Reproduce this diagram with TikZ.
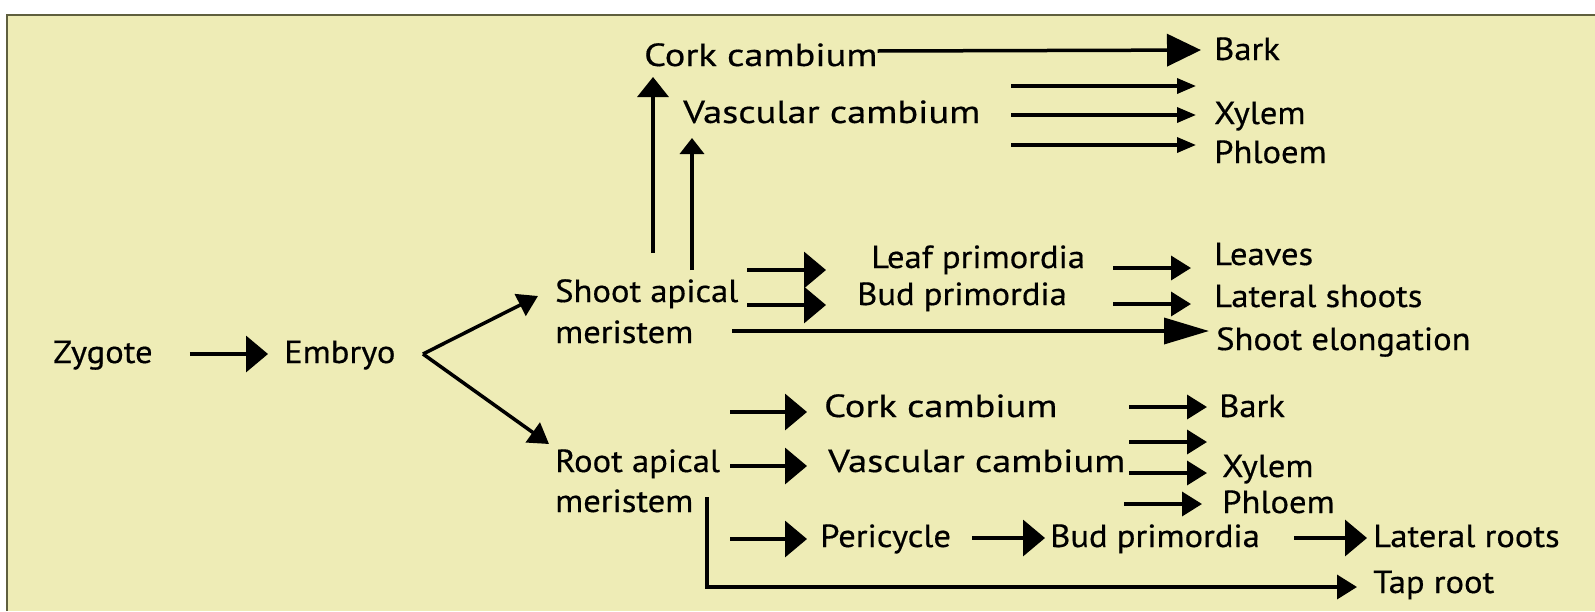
\documentclass[tikz,border=0pt]{standalone}
\usepackage{fontspec}
\setmainfont{PT Sans}[FakeStretch=1.08,FakeBold=0.5]
\newfontfamily\cambfont{PT Sans}[FakeStretch=1.2,FakeBold=0.5]
\usepackage{tikz}
\usetikzlibrary{arrows.meta}

\definecolor{paper}{RGB}{238,236,182}
\definecolor{edgeline}{RGB}{95,95,62}

\tikzset{
    lbl/.style={anchor=base west, inner sep=0pt, text height=24pt, text depth=6pt,
        font=\fontsize{32}{38}\selectfont},
    camb/.style={lbl, font=\fontsize{32}{38}\cambfont},
    big/.style={line width=3.5pt, -{Triangle[length=22pt,width=36pt]}},
    mid/.style={line width=3.5pt, -{Triangle[length=20pt,width=24pt]}},
    small/.style={line width=3.5pt, -{Triangle[length=19pt,width=15pt]}},
    long/.style={line width=3.5pt, -{Triangle[length=45pt,width=26pt]}},
    wide/.style={line width=3.5pt, -{Triangle[length=34pt,width=32pt]}},
    upbig/.style={line width=3.5pt, -{Triangle[length=20pt,width=31pt]}},
    upsmall/.style={line width=3.5pt, -{Triangle[length=16pt,width=24pt]}},
}

\begin{document}
\begin{tikzpicture}[x=1pt,y=-1pt]
    \useasboundingbox (0,0) rectangle (1595,611);
    \fill[white] (0,0) rectangle (1595,611);
    \fill[paper] (7,15) rectangle (1595,611);
    \draw[edgeline, line width=2pt] (7,611) -- (7,15) -- (1595,15);

    % main line
    \node[lbl] (zyg) at (53,363) {Zygote};
    \node[lbl] (emb) at (284,363) {Embryo};
    \node[lbl] (sam) at (555,302) {Shoot apical};
    \node[lbl] (samb) at (555,343) {meristem};
    \node[lbl] (ram) at (555,472) {Root apical};
    \node[lbl] (ramb) at (555,512) {meristem};

    % shoot, secondary growth
    \node[camb] (ckS) at (644,66) {Cork cambium};
    \node[camb] (vcS) at (683,123) {Vascular cambium};
    \node[lbl] (barkS) at (1214,60) {Bark};
    \node[lbl] (xylS) at (1214,124) {Xylem};
    \node[lbl] (phlS) at (1214,163) {Phloem};

    % shoot, primary growth
    \node[lbl] (leafp) at (871,268) {Leaf primordia};
    \node[lbl] (budp) at (857,305) {Bud primordia};
    \node[lbl] (leaves) at (1214,265) {Leaves};
    \node[lbl] (latsh) at (1214,307) {Lateral shoots};
    \node[lbl] (elong) at (1216,350) {Shoot elongation};

    % root
    \node[camb] (ckR) at (824,417) {Cork cambium};
    \node[camb] (vcR) at (828,472) {Vascular cambium};
    \node[lbl] (peri) at (820,547) {Pericycle};
    \node[lbl] (barkR) at (1219,417) {Bark};
    \node[lbl] (xylR) at (1222,477) {Xylem};
    \node[lbl] (phlR) at (1222,513) {Phloem};
    \node[lbl] (budR) at (1050,547) {Bud primordia};
    \node[lbl] (latr) at (1373,547) {Lateral roots};
    \node[lbl] (tap) at (1373,593) {Tap root};

    % free ends
    \coordinate (fork) at (423,354);
    \coordinate (up1) at (653,253);
    \coordinate (up2) at (692,270);
    \coordinate (v1) at (1011,86);
    \coordinate (v2) at (1011,115);
    \coordinate (v3) at (1011,145);
    \coordinate (s1) at (747,270);
    \coordinate (s2) at (747,305);
    \coordinate (s3) at (1113,268);
    \coordinate (s4) at (1113,304);
    \coordinate (s5) at (732,331);
    \coordinate (r1) at (730,412);
    \coordinate (r2) at (730,466);
    \coordinate (r3) at (730,539);
    \coordinate (r4) at (1129,407);
    \coordinate (r5) at (1129,442);
    \coordinate (r6) at (1129,473);
    \coordinate (r7) at (1124,504);
    \coordinate (tr) at (707,497);

    \draw[big, shorten <=37pt, shorten >=16pt] (zyg.east) -- (emb.west);
    \draw[mid] (fork) -- ([xshift=-17pt,yshift=6pt]sam.base west);
    \draw[mid] (fork) -- ([xshift=-6pt,yshift=28pt]ram.base west);

    \draw[upbig] (up1) -- ([xshift=9pt,yshift=-11pt]ckS.base west);
    \draw[upsmall] (up2) -- ([xshift=9pt,yshift=-15pt]vcS.base west);
    \draw[wide, shorten >=13pt] ([yshift=6pt]ckS.east) -- ([yshift=10pt]barkS.base west);
    \foreach \c in {v1,v2,v3}
        \draw[small, shorten >=18pt] (\c) -- (\c -| xylS.west);

    \draw[big, shorten >=31pt] (s1) -- (s1 -| budp.west);
    \draw[big, shorten >=31pt] (s2) -- (s2 -| budp.west);
    \draw[mid, shorten >=23pt] (s3) -- (s3 -| leaves.west);
    \draw[mid, shorten >=23pt] (s4) -- (s4 -| latsh.west);
    \draw[long, shorten >=7pt] (s5) -- (s5 -| elong.west);

    \draw[big, shorten >=17pt] (r1) -- (r1 -| ckR.west);
    \draw[big, shorten >=21pt] (r2) -- (r2 -| vcR.west);
    \draw[big, shorten >=13pt] (r3) -- (r3 -| peri.west);
    \draw[mid, shorten >=12pt] (r4) -- (r4 -| barkR.west);
    \draw[mid, shorten >=15pt] (r5) -- (r5 -| xylR.west);
    \draw[mid, shorten >=15pt] (r6) -- (r6 -| xylR.west);
    \draw[mid, shorten >=20pt] (r7) -- (r7 -| phlR.west);
    \draw[big, shorten <=21pt, shorten >=5pt] (peri.east) -- (budR.west);
    \draw[big, shorten <=34pt, shorten >=6pt] (budR.east) -- (latr.west);
    \draw[mid, shorten >=16pt] (tr) |- ([yshift=-3pt]tap.west);
\end{tikzpicture}
\end{document}
